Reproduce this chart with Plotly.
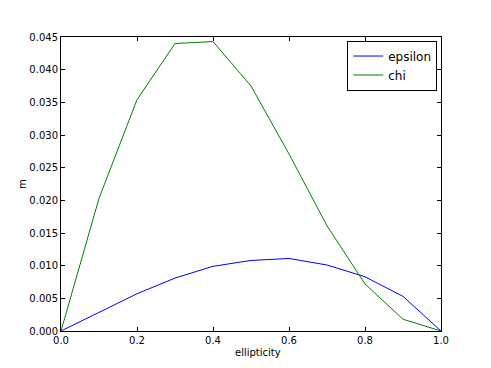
import plotly.graph_objects as go

# ellipticity grid and the two curves
ellipticity = [0.0, 0.1, 0.2, 0.3, 0.4, 0.5, 0.6, 0.7, 0.8, 0.9, 1.0]
epsilon = [0.0, 0.0029, 0.0057, 0.0081, 0.0099, 0.0108, 0.0111, 0.0101, 0.0083, 0.0053, 0.0]
chi = [0.0, 0.0203, 0.0354, 0.0440, 0.0443, 0.0375, 0.0271, 0.0161, 0.0072, 0.0018, 0.0]

x_ticks = [0.0, 0.2, 0.4, 0.6, 0.8, 1.0]
y_ticks = [0.000, 0.005, 0.010, 0.015, 0.020, 0.025, 0.030, 0.035, 0.040, 0.045]

fig = go.Figure()
fig.add_trace(go.Scatter(x=ellipticity, y=epsilon, mode="lines", name="epsilon",
                         line=dict(color="#0000ff", width=1)))
fig.add_trace(go.Scatter(x=ellipticity, y=chi, mode="lines", name="chi",
                         line=dict(color="#008000", width=1)))

axis_style = dict(showgrid=False, zeroline=False, showline=True, linecolor="black",
                  linewidth=1, mirror="allticks", ticks="inside", ticklen=4,
                  tickcolor="black", tickfont=dict(size=10, color="black"),
                  automargin=False)

# the page body adds an 8px offset, so margins are trimmed by 8 on the left/top
fig.update_layout(
    width=491, height=368,
    margin=dict(l=53, r=58, t=29, b=45),
    paper_bgcolor="white", plot_bgcolor="white",
    font=dict(family="DejaVu Sans", size=10, color="black"),
    showlegend=True,
    legend=dict(x=0.99, y=0.988, xanchor="right", yanchor="top",
                bgcolor="white", bordercolor="black", borderwidth=1,
                font=dict(size=12), tracegroupgap=0, itemwidth=30),
    xaxis=dict(range=[0, 1], tickvals=x_ticks, tickformat=".1f", **axis_style),
    yaxis=dict(range=[0, 0.045], tickvals=y_ticks, tickformat=".3f",
               title=dict(text="m", font=dict(size=10), standoff=0), **axis_style),
)

# x label sits a little right of centre in the original
fig.add_annotation(text="ellipticity", xref="paper", yref="paper", x=0.518, y=0,
                   yshift=-21, xanchor="center", yanchor="middle", showarrow=False,
                   font=dict(size=10))

fig.write_html("out.html")
